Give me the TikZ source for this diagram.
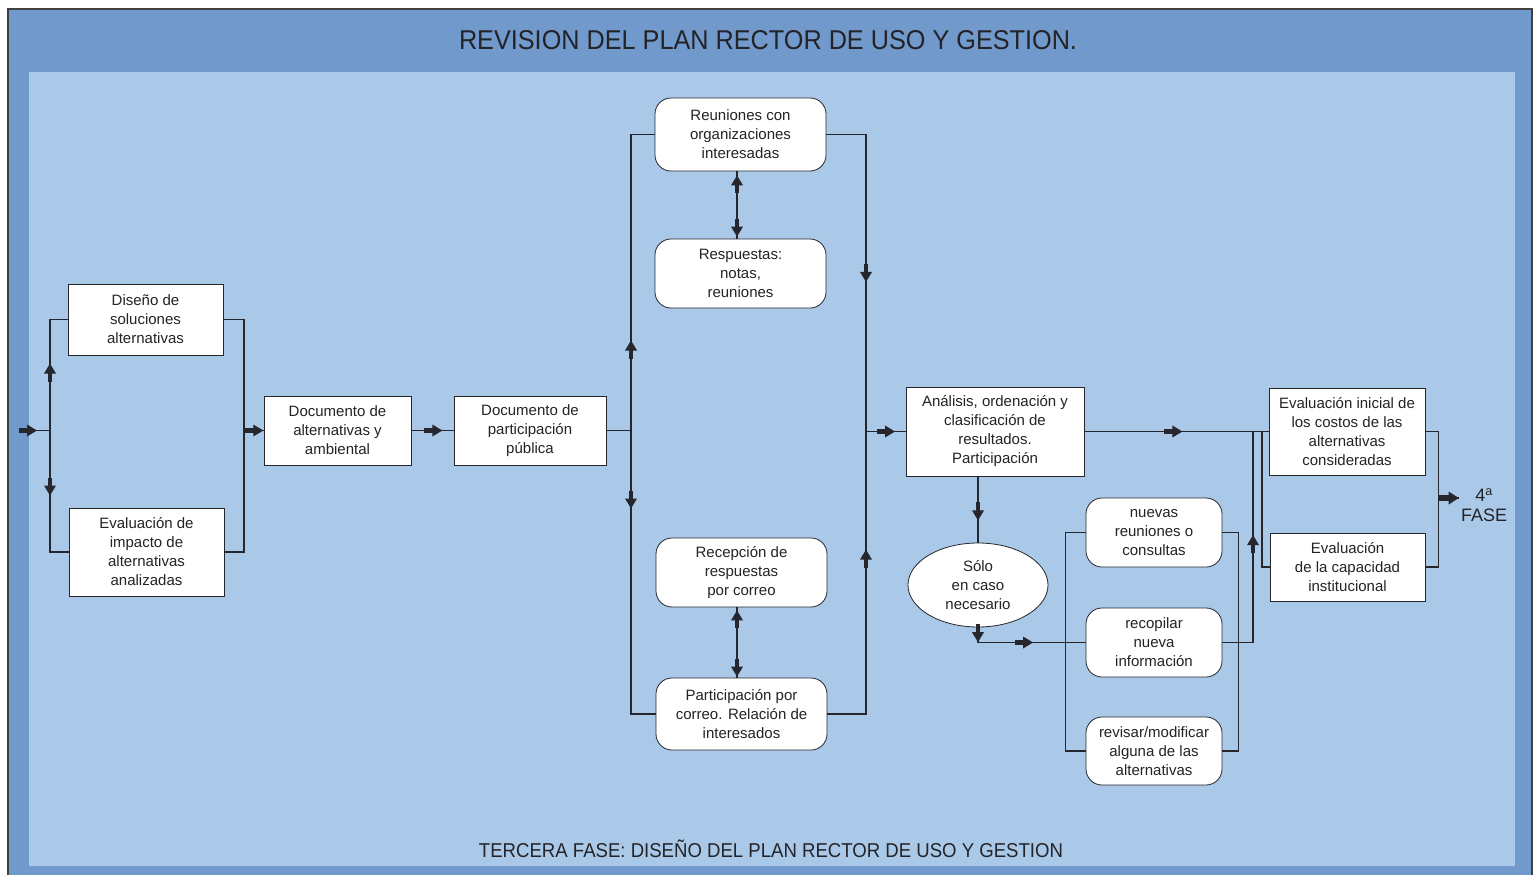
\documentclass[tikz,border=0pt]{standalone}
\usepackage{graphicx}
\usepackage{fontspec}
\setmainfont{Liberation Sans}
\usetikzlibrary{shapes.geometric,decorations.markings,arrows.meta,calc}

\definecolor{framecol}{RGB}{113,153,203}
\definecolor{innercol}{RGB}{170,201,233}
\definecolor{linecol}{RGB}{38,38,44}
\definecolor{txtcol}{RGB}{35,35,40}

\newcommand{\arrshape}{%
  \fill[linecol] (-18pt,-2.2pt) rectangle (-8pt,2.2pt);
  \fill[linecol] (-10pt,-6pt) -- (0pt,0pt) -- (-10pt,6pt) -- cycle;}
\newcommand{\bigarrshape}{%
  \fill[linecol] (-20pt,-3pt) rectangle (-8pt,3pt);
  \fill[linecol] (-10pt,-6.5pt) -- (0pt,0pt) -- (-10pt,6.5pt) -- cycle;}

\tikzset{
  conn/.style={draw=linecol, line width=1.1pt},
  tipat/.style={postaction={decorate,decoration={markings,
      mark=at position #1 with {\arrshape}}}},
  bigtipat/.style={postaction={decorate,decoration={markings,
      mark=at position #1 with {\bigarrshape}}}},
  tipback/.style={postaction={decorate,decoration={markings,
      mark=at position #1 with {\begin{scope}[rotate=180]\arrshape\end{scope}}}}},
  flowbox/.style={draw=linecol, line width=0.8pt, fill=white, align=center,
      inner sep=0pt, text=txtcol, font=\fontsize{15}{19}\selectfont},
  roundbox/.style={flowbox, rounded corners=16pt},
  ovalbox/.style={flowbox, ellipse},
}

\begin{document}
\begin{tikzpicture}[x=1pt,y=-1pt]
\useasboundingbox (0,0) rectangle (1539,875);
% frame
\fill[white] (0,0) rectangle (1539,875);
\fill[framecol] (8,9) rectangle (1532,875);
\draw[line width=1.2pt, black!75] (8,875) -- (8,9) -- (1532,9) -- (1532,875);
\fill[innercol] (29,72) rectangle (1515,866);

% titles
\node[text=txtcol, inner sep=0pt] (title) at (768,40.5)
  {\resizebox{618pt}{19pt}{\fontsize{28}{28}\selectfont REVISION DEL PLAN RECTOR DE USO Y GESTION.}};
\node[text=txtcol, inner sep=0pt] (foot) at (771,850.5)
  {\resizebox{584pt}{14pt}{\fontsize{19}{19}\selectfont TERCERA FASE: DISE\smash{Ñ}O DEL PLAN RECTOR DE USO Y GESTION}};

% nodes
\node[flowbox, minimum width=155pt, minimum height=71pt] (d1) at (145.5,319.5)
  {Diseño de\\soluciones\\alternativas};
\node[flowbox, minimum width=155pt, minimum height=88pt] (ev) at (146.5,552)
  {Evaluación de\\impacto de\\alternativas\\analizadas};
\node[flowbox, minimum width=147pt, minimum height=69pt] (doc) at (337.5,430.5)
  {Documento de\\alternativas y\\ambiental};
\node[flowbox, minimum width=152pt, minimum height=69pt] (part) at (530,430.5)
  {Documento de\\participación\\pública};
\node[roundbox, minimum width=171pt, minimum height=73pt] (reu) at (740.5,134.5)
  {Reuniones con\\organizaciones\\interesadas};
\node[roundbox, minimum width=171pt, minimum height=69pt] (resp) at (740.5,273.5)
  {Respuestas:\\notas,\\reuniones};
\node[roundbox, minimum width=171pt, minimum height=69pt] (recp) at (741.5,572.5)
  {Recepción de\\respuestas\\por correo};
\node[roundbox, minimum width=171pt, minimum height=72pt] (pcor) at (741.5,714)
  {Participación por\\correo. Relación de\\interesados};
\node[flowbox, minimum width=178pt, minimum height=89pt] (ana) at (995,431.5)
  {Análisis, ordenación y\\clasificación de\\resultados.\\Participación};
\node[ovalbox, minimum width=140pt, minimum height=84pt] (solo) at (978,585)
  {Sólo\\en caso\\necesario};
\node[roundbox, minimum width=136pt, minimum height=69pt] (nue) at (1154,532.5)
  {nuevas\\reuniones o\\consultas};
\node[roundbox, minimum width=136pt, minimum height=69pt] (rec) at (1154,642.5)
  {recopilar\\nueva\\información};
\node[roundbox, minimum width=136pt, minimum height=68pt] (rev) at (1154,751)
  {revisar/modificar\\alguna de las\\alternativas};
\node[flowbox, minimum width=156pt, minimum height=87pt] (ev1) at (1347,431.5)
  {Evaluación inicial de\\los costos de las\\alternativas\\consideradas};
\node[flowbox, minimum width=155pt, minimum height=68pt] (ev2) at (1347.5,567)
  {Evaluación\\de la capacidad\\institucional};
\node[text=txtcol, align=center, inner sep=0pt, font=\fontsize{18}{20}\selectfont] (fase) at (1484,505)
  {4\textsuperscript{a}\\FASE};

% junction coordinates
\coordinate (in) at (19,430.5);
\coordinate (jL) at (50,430.5);
\coordinate (jR) at (244,430.5);
\coordinate (jP) at (631,430.5);
\coordinate (jQ) at (866,431.5);
\coordinate (jS) at (solo.south |- rec.west);
\coordinate (jF) at (1438,498);
\coordinate (fF) at (1459,498);

% left block
\draw[conn, tipat=18pt] (in) -- (jL);
\draw[conn, tipat=67pt] (jL) |- (d1.west);
\draw[conn, tipat=65pt] (jL) |- (ev.west);
\draw[conn] (d1.east) -| (jR) |- (ev.east);
\draw[conn, tipat=-0.3pt] (jR) -- (doc.west);
\draw[conn, tipat=31pt] (doc.east) -- (part.west);

% participation block
\draw[conn] (part.east) -- (jP);
\draw[conn, tipat=90pt] (jP) |- (reu.west);
\draw[conn, tipat=78pt] (jP) |- (pcor.west);
\draw[conn, tipat=187pt] (reu.east) -| (jQ);
\draw[conn, tipat=203pt] (pcor.east) -| (jQ);
\draw[conn, tipat=29pt] (jQ) -- (ana.west);
\draw[conn, tipback=4pt, tipat=-2pt] (737,0 |- reu.south) -- (737,0 |- resp.north);
\draw[conn, tipback=3pt, tipat=-1pt] (737,0 |- recp.south) -- (737,0 |- pcor.north);

% analysis block
\draw[conn, tipat=98pt] (ana.east) -- (ev1.west);
\draw[conn, tipat=44pt] (solo.north |- ana.south) -- (solo.north);
\draw[conn, tipat=-0.3pt] (solo.south) -- (jS);
\draw[conn, tipat=55pt] (jS) -- (rec.west);
\draw[conn] (nue.west) -- ++(-20,0) |- (rev.west);
\draw[conn] (nue.east) -- ++(16,0) |- (rev.east);
\draw[conn, tipat=138pt] (rec.east) -| (1253,0 |- ev1.west);
\draw[conn] (1262,0 |- ev1.west) |- (ev2.west);
\draw[conn] (ev1.east) -- ++(13,0) |- (ev2.east);
\draw[conn, bigtipat=-0.3pt] (jF) -- (fF);
\end{tikzpicture}
\end{document}
